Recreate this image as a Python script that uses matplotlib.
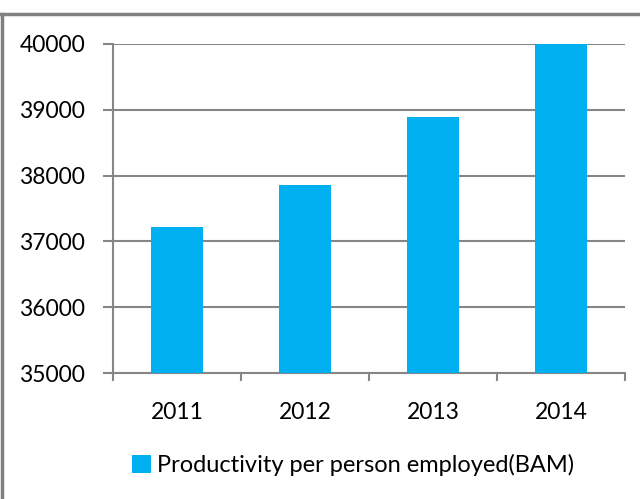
import matplotlib.pyplot as plt
from matplotlib.lines import Line2D
from matplotlib.patches import Patch

years = ['2011', '2012', '2013', '2014']
productivity = [37220, 37855, 38885, 40000]
y_ticks = [35000, 36000, 37000, 38000, 39000, 40000]

bar_color = '#00B0F0'
grid_color = '#868686'

plt.rcParams['font.family'] = ['Lato', 'DejaVu Sans']

fig = plt.figure(figsize=(6.4, 4.99), dpi=100)
ax = fig.add_axes([113 / 640, 1 - 373 / 499, 512 / 640, 329 / 499])

x = range(len(years))
ax.bar(x, productivity, width=0.41, color=bar_color, zorder=3)

ax.set_ylim(35000, 40000)
ax.set_xlim(-0.5, len(years) - 0.5)
ax.set_yticks(y_ticks)
ax.set_yticklabels([str(v) for v in y_ticks], fontsize=16.5)
ax.set_xticks([i - 0.5 for i in range(len(years) + 1)], minor=False)
ax.set_xticklabels([])
ax.set_xticks(list(x), minor=True)
ax.set_xticklabels(years, minor=True, fontsize=16.5)
ax.tick_params(axis='x', which='minor', length=0, pad=21)
ax.tick_params(axis='x', which='major', length=6, color=grid_color, width=1.5)
ax.tick_params(axis='y', length=7, color=grid_color, width=1.5, pad=13)

ax.grid(axis='y', color=grid_color, linewidth=1.5, zorder=0)
for s in ['top', 'right']:
    ax.spines[s].set_visible(False)
for s in ['left', 'bottom']:
    ax.spines[s].set_color(grid_color)
    ax.spines[s].set_linewidth(1.5)

handle = Patch(facecolor=bar_color, edgecolor='none')
fig.legend([handle], ['Productivity per person employed(BAM)'],
           loc='center', bbox_to_anchor=(353 / 640, 1 - 465 / 499),
           frameon=False, fontsize=17, handlelength=0.78, handleheight=0.78,
           handletextpad=0.25)

# chart border (only top and left visible in the crop)
fig.add_artist(Line2D([0, 1], [1 - 14 / 499, 1 - 14 / 499],
                      transform=fig.transFigure, color='#808080', linewidth=2.5))
fig.add_artist(Line2D([1.5 / 640, 1.5 / 640], [0, 1 - 14 / 499],
                      transform=fig.transFigure, color='#808080', linewidth=2.5))

fig.savefig('out.png', dpi=100)
